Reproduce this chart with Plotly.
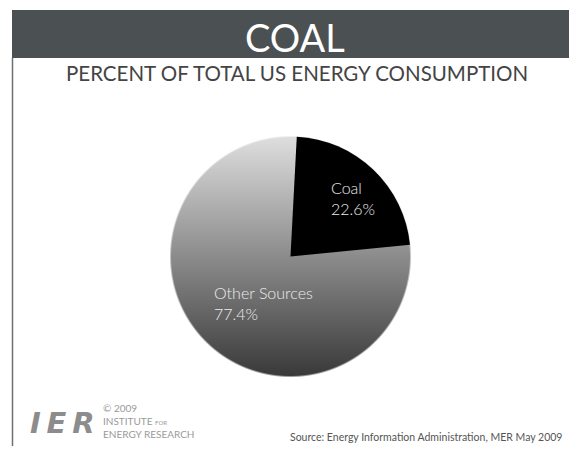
import base64, struct, zlib
import numpy as np
import plotly.graph_objects as go

# ---- data ----
labels = ["Coal", "Other Sources"]
values = [22.6, 77.4]
title_text = "COAL"
subtitle_text = "PERCENT OF TOTAL US ENERGY CONSUMPTION"
source_text = "Source: Energy Information Administration, MER May 2009"

W, H = 569, 449

def px(x):
    return x / W

def py(y):
    return 1 - y / H

# pie geometry (pixels)
CX, CY, R = 290.5, 256.5, 120
dom_x = [px(CX - R), px(CX + R)]
dom_y = [py(CY + R), py(CY - R)]

# gradient disc image for the "Other Sources" slice
def gradient_disc(n=480, top=0xDF, bottom=0x3A):
    yy, xx = np.mgrid[0:n, 0:n].astype(float)
    c = (n - 1) / 2
    d = np.sqrt((xx - c) ** 2 + (yy - c) ** 2)
    a = np.clip(n / 2 - d + 0.5, 0, 1)
    t = yy / (n - 1)
    g = top + (bottom - top) * t
    img = np.zeros((n, n, 4), dtype=np.uint8)
    img[..., 0] = g
    img[..., 1] = g
    img[..., 2] = g
    img[..., 3] = (a * 255).astype(np.uint8)
    raw = b"".join(b"\x00" + img[i].tobytes() for i in range(n))

    def chunk(tag, data):
        return (struct.pack(">I", len(data)) + tag + data +
                struct.pack(">I", zlib.crc32(tag + data) & 0xFFFFFFFF))

    png = (b"\x89PNG\r\n\x1a\n" +
           chunk(b"IHDR", struct.pack(">IIBBBBB", n, n, 8, 6, 0, 0, 0)) +
           chunk(b"IDAT", zlib.compress(raw, 9)) +
           chunk(b"IEND", b""))
    return "data:image/png;base64," + base64.b64encode(png).decode()

fig = go.Figure()
fig.add_trace(go.Pie(
    labels=labels, values=values, sort=False, direction="clockwise",
    rotation=3, textinfo="none", hoverinfo="label+percent",
    marker=dict(colors=["#000000", "rgba(0,0,0,0)"], line=dict(width=0)),
    domain=dict(x=dom_x, y=dom_y), showlegend=False,
))

shapes = [
    dict(type="rect", xref="paper", yref="paper", x0=px(12), x1=1, y0=py(58), y1=py(10),
         fillcolor="#4b5052", line=dict(width=0), layer="below"),
    dict(type="line", xref="paper", yref="paper", x0=px(12.5), x1=px(12.5), y0=py(58), y1=py(446),
         line=dict(color="#6f6f6f", width=1.5)),
]

font = "Lato"
ann = [
    dict(text=title_text, x=px(295), y=py(37), xanchor="center", yanchor="middle",
         font=dict(family=font, size=38, color="#ffffff", weight=400)),
    dict(text=subtitle_text, x=px(296.5), y=py(73), xanchor="center", yanchor="middle",
         font=dict(family=font, size=20.5, color="#444444", weight=400)),
    dict(text=f"{labels[0]}<br>{values[0]}%", x=px(329), y=py(198), xanchor="left", yanchor="middle",
         align="left", font=dict(family=font, size=16, color="#ececec", weight=300)),
    dict(text=f"{labels[1]}<br>{values[1]}%", x=px(212), y=py(303), xanchor="left", yanchor="middle",
         align="left", font=dict(family=font, size=16, color="#ececec", weight=300)),
    dict(text=source_text, x=px(564), y=py(437), xanchor="right", yanchor="middle",
         font=dict(family=font, size=10.5, color="#555555")),
    dict(text="<b><i>I\u2009E\u2009R</i></b>", x=px(28), y=py(423), xanchor="left", yanchor="middle",
         font=dict(family="DejaVu Sans", size=29, color="#8c8c8c")),
    dict(text="© 2009<br>INSTITUTE <span style='font-size:6px'>FOR</span><br>ENERGY RESEARCH",
         x=px(101), y=py(421), xanchor="left", yanchor="middle", align="left",
         font=dict(family=font, size=10, color="#9a9a9a")),
]

fig.update_layout(
    width=W, height=H, margin=dict(l=0, r=0, t=0, b=0),
    paper_bgcolor="#ffffff", plot_bgcolor="#ffffff",
    shapes=shapes,
    annotations=[dict(a, xref="paper", yref="paper", showarrow=False) for a in ann],
    images=[dict(source=gradient_disc(), xref="paper", yref="paper",
                 x=dom_x[0], y=dom_y[1], sizex=dom_x[1] - dom_x[0], sizey=dom_y[1] - dom_y[0],
                 xanchor="left", yanchor="top", sizing="stretch", layer="below")],
)

fig.write_html("out.html", config={"displayModeBar": False},
               post_script="document.body.style.margin='0';document.body.style.overflow='hidden';")
